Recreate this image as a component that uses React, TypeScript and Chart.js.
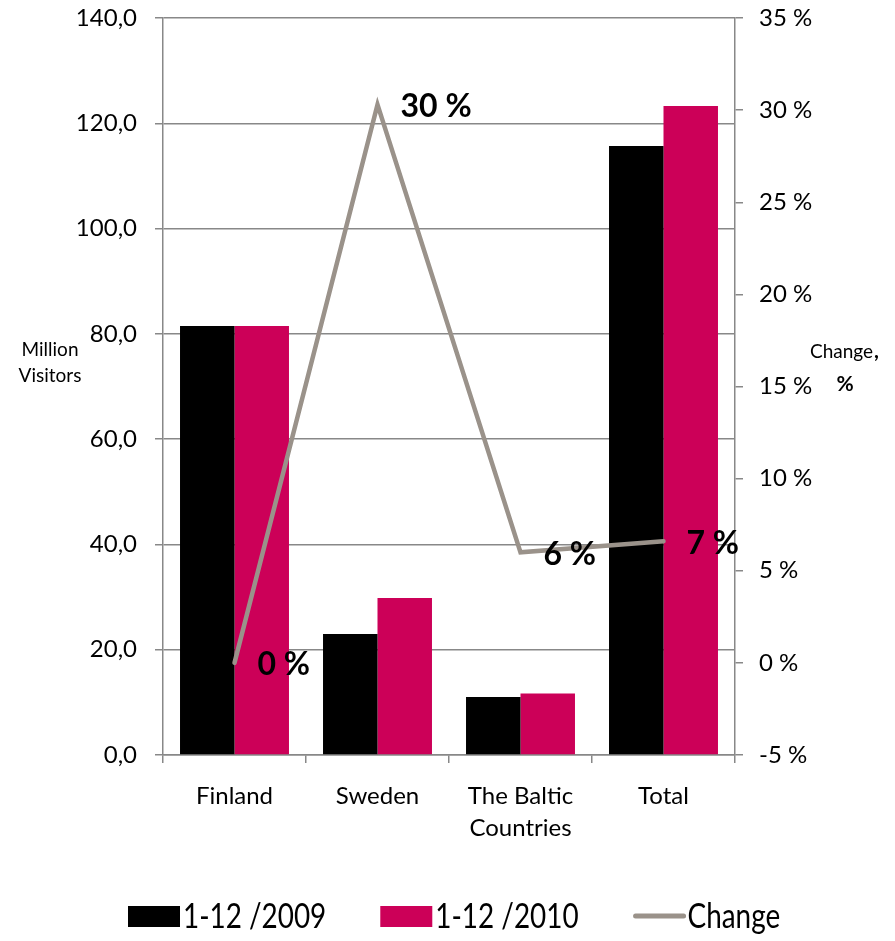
import React, { useEffect, useRef } from 'react';
import { Chart, registerables } from 'chart.js';

Chart.register(...registerables);

// ---- data ----
const categories: (string | string[])[] = ['Finland', 'Sweden', ['The Baltic', 'Countries'], 'Total'];
const visitors2009 = [81.5, 23.0, 11.0, 115.7];
const visitors2010 = [81.5, 29.8, 11.7, 123.3];
const changePct = [0, 30.3, 6.0, 6.6];
const changeLabels = ['0 %', '30 %', '6 %', '7 %'];
const seriesNames = ['1-12 /2009', '1-12 /2010', 'Change'];
const leftTitle = ['Million', 'Visitors'];
const rightTitle = ['Change', ',', '%'];

const FONT = "Lato, 'Noto Sans', sans-serif";
const GRID = '#888888';
const BLACK = '#000000';
const PINK = '#CC0058';
const LINE = '#9A928A';

const labelPlugin = {
  id: 'changeLabels',
  afterDatasetsDraw(chart: any) {
    const meta = chart.getDatasetMeta(0);
    const ctx = chart.ctx;
    ctx.save();
    ctx.font = `bold 32px ${FONT}`;
    ctx.fillStyle = '#000';
    ctx.textAlign = 'left';
    ctx.textBaseline = 'middle';
    meta.data.forEach((pt: any, i: number) => {
      ctx.fillText(changeLabels[i], pt.x + 23, pt.y + 2);
    });
    ctx.restore();
  },
};

const decorPlugin = {
  id: 'decor',
  afterDraw(chart: any) {
    const ctx = chart.ctx;
    ctx.save();
    ctx.fillStyle = '#000';
    // left title
    ctx.textAlign = 'center';
    ctx.textBaseline = 'alphabetic';
    ctx.font = `19px ${FONT}`;
    ctx.fillText(leftTitle[0], 50, 356);
    ctx.fillText(leftTitle[1], 50, 382);
    // right title
    ctx.textAlign = 'left';
    ctx.font = `19px ${FONT}`;
    const w1 = ctx.measureText(rightTitle[0]).width;
    ctx.fillText(rightTitle[0], 810, 358);
    ctx.font = `bold 21px ${FONT}`;
    ctx.fillText(rightTitle[1], 810 + w1 + 1, 358);
    ctx.textAlign = 'center';
    ctx.fillText(rightTitle[2], 845, 391);

    // legend
    const ds = chart.data.datasets;
    const order = [1, 2, 0];
    const sx = 0.82;
    let x = 128;
    const cy = 916;
    ctx.font = `34px ${FONT}`;
    ctx.textAlign = 'left';
    ctx.textBaseline = 'middle';
    order.forEach((di) => {
      const d = ds[di];
      if (d.type === 'line') {
        ctx.strokeStyle = d.borderColor;
        ctx.lineWidth = 5;
        ctx.lineCap = 'round';
        ctx.beginPath();
        ctx.moveTo(x + 3, cy);
        ctx.lineTo(x + 51, cy);
        ctx.stroke();
      } else {
        ctx.fillStyle = d.backgroundColor;
        ctx.fillRect(x, cy - 10, 52, 21);
      }
      ctx.fillStyle = '#000';
      const tx = x + 55;
      ctx.save();
      ctx.translate(tx, cy + 1);
      ctx.scale(sx, 1);
      ctx.fillText(d.label, 0, 0);
      ctx.restore();
      x = tx + ctx.measureText(d.label).width * sx + 54;
    });
    ctx.restore();
  },
};

const noPad = (s: any) => {
  s.paddingTop = 0;
  s.paddingBottom = 0;
};

export default function App() {
  const ref = useRef<HTMLCanvasElement>(null);
  useEffect(() => {
    if (!ref.current) return;
    const chart = new Chart(ref.current, {
      type: 'bar',
      data: {
        labels: categories,
        datasets: [
          {
            type: 'line',
            label: seriesNames[2],
            data: changePct,
            yAxisID: 'y1',
            borderColor: LINE,
            backgroundColor: LINE,
            borderWidth: 4.5,
            borderCapStyle: 'round',
            borderJoinStyle: 'miter',
            pointRadius: 0,
            tension: 0,
            order: 0,
          } as any,
          {
            type: 'bar',
            label: seriesNames[0],
            data: visitors2009,
            yAxisID: 'y',
            backgroundColor: BLACK,
            categoryPercentage: 0.762,
            barPercentage: 1.0,
            order: 1,
          },
          {
            type: 'bar',
            label: seriesNames[1],
            data: visitors2010,
            yAxisID: 'y',
            backgroundColor: PINK,
            categoryPercentage: 0.762,
            barPercentage: 1.0,
            order: 1,
          },
        ],
      },
      options: {
        animation: false,
        responsive: false,
        layout: { autoPadding: false, padding: { top: 18, left: 0, right: 0, bottom: 86 } },
        plugins: { legend: { display: false }, tooltip: { enabled: false } },
        scales: {
          x: {
            offset: true,
            grid: {
              display: true,
              offset: true,
              drawOnChartArea: false,
              drawTicks: true,
              tickLength: 8,
              color: GRID,
              lineWidth: 1.5,
            },
            border: { display: true, color: GRID, width: 1.5 },
            ticks: {
              color: '#000',
              font: { family: FONT, size: 24, lineHeight: 1.33 },
              padding: 17,
              maxRotation: 0,
              autoSkip: false,
            },
            afterFit: (s: any) => {
              s.height = 100;
              s.paddingLeft = 0;
              s.paddingRight = 0;
            },
          },
          y: {
            position: 'left',
            min: 0,
            max: 140,
            ticks: {
              stepSize: 20,
              color: '#000',
              font: { family: FONT, size: 24 },
              padding: 18,
              callback: (v: any) => Number(v).toFixed(1).replace('.', ','),
            },
            grid: { color: GRID, lineWidth: 1.5, tickLength: 8, drawTicks: true },
            border: { display: true, color: GRID, width: 1.5 },
            afterFit: (s: any) => {
              s.width = 163;
              noPad(s);
            },
          },
          y1: {
            position: 'right',
            min: -5,
            max: 35,
            ticks: {
              stepSize: 5,
              color: '#000',
              font: { family: FONT, size: 24 },
              padding: 16,
              callback: (v: any) => `${v} %`,
            },
            grid: { drawOnChartArea: false, color: GRID, lineWidth: 1.5, tickLength: 8, drawTicks: true },
            border: { display: true, color: GRID, width: 1.5 },
            afterFit: (s: any) => {
              s.width = 160;
              noPad(s);
            },
          },
        },
      },
      plugins: [labelPlugin, decorPlugin],
    });
    return () => chart.destroy();
  }, []);
  return (
    <div style={{ position: 'absolute', left: 0, top: 0, width: 895, height: 941, background: '#fff' }}>
      <canvas ref={ref} width={895} height={941} style={{ display: 'block' }} />
    </div>
  );
}
